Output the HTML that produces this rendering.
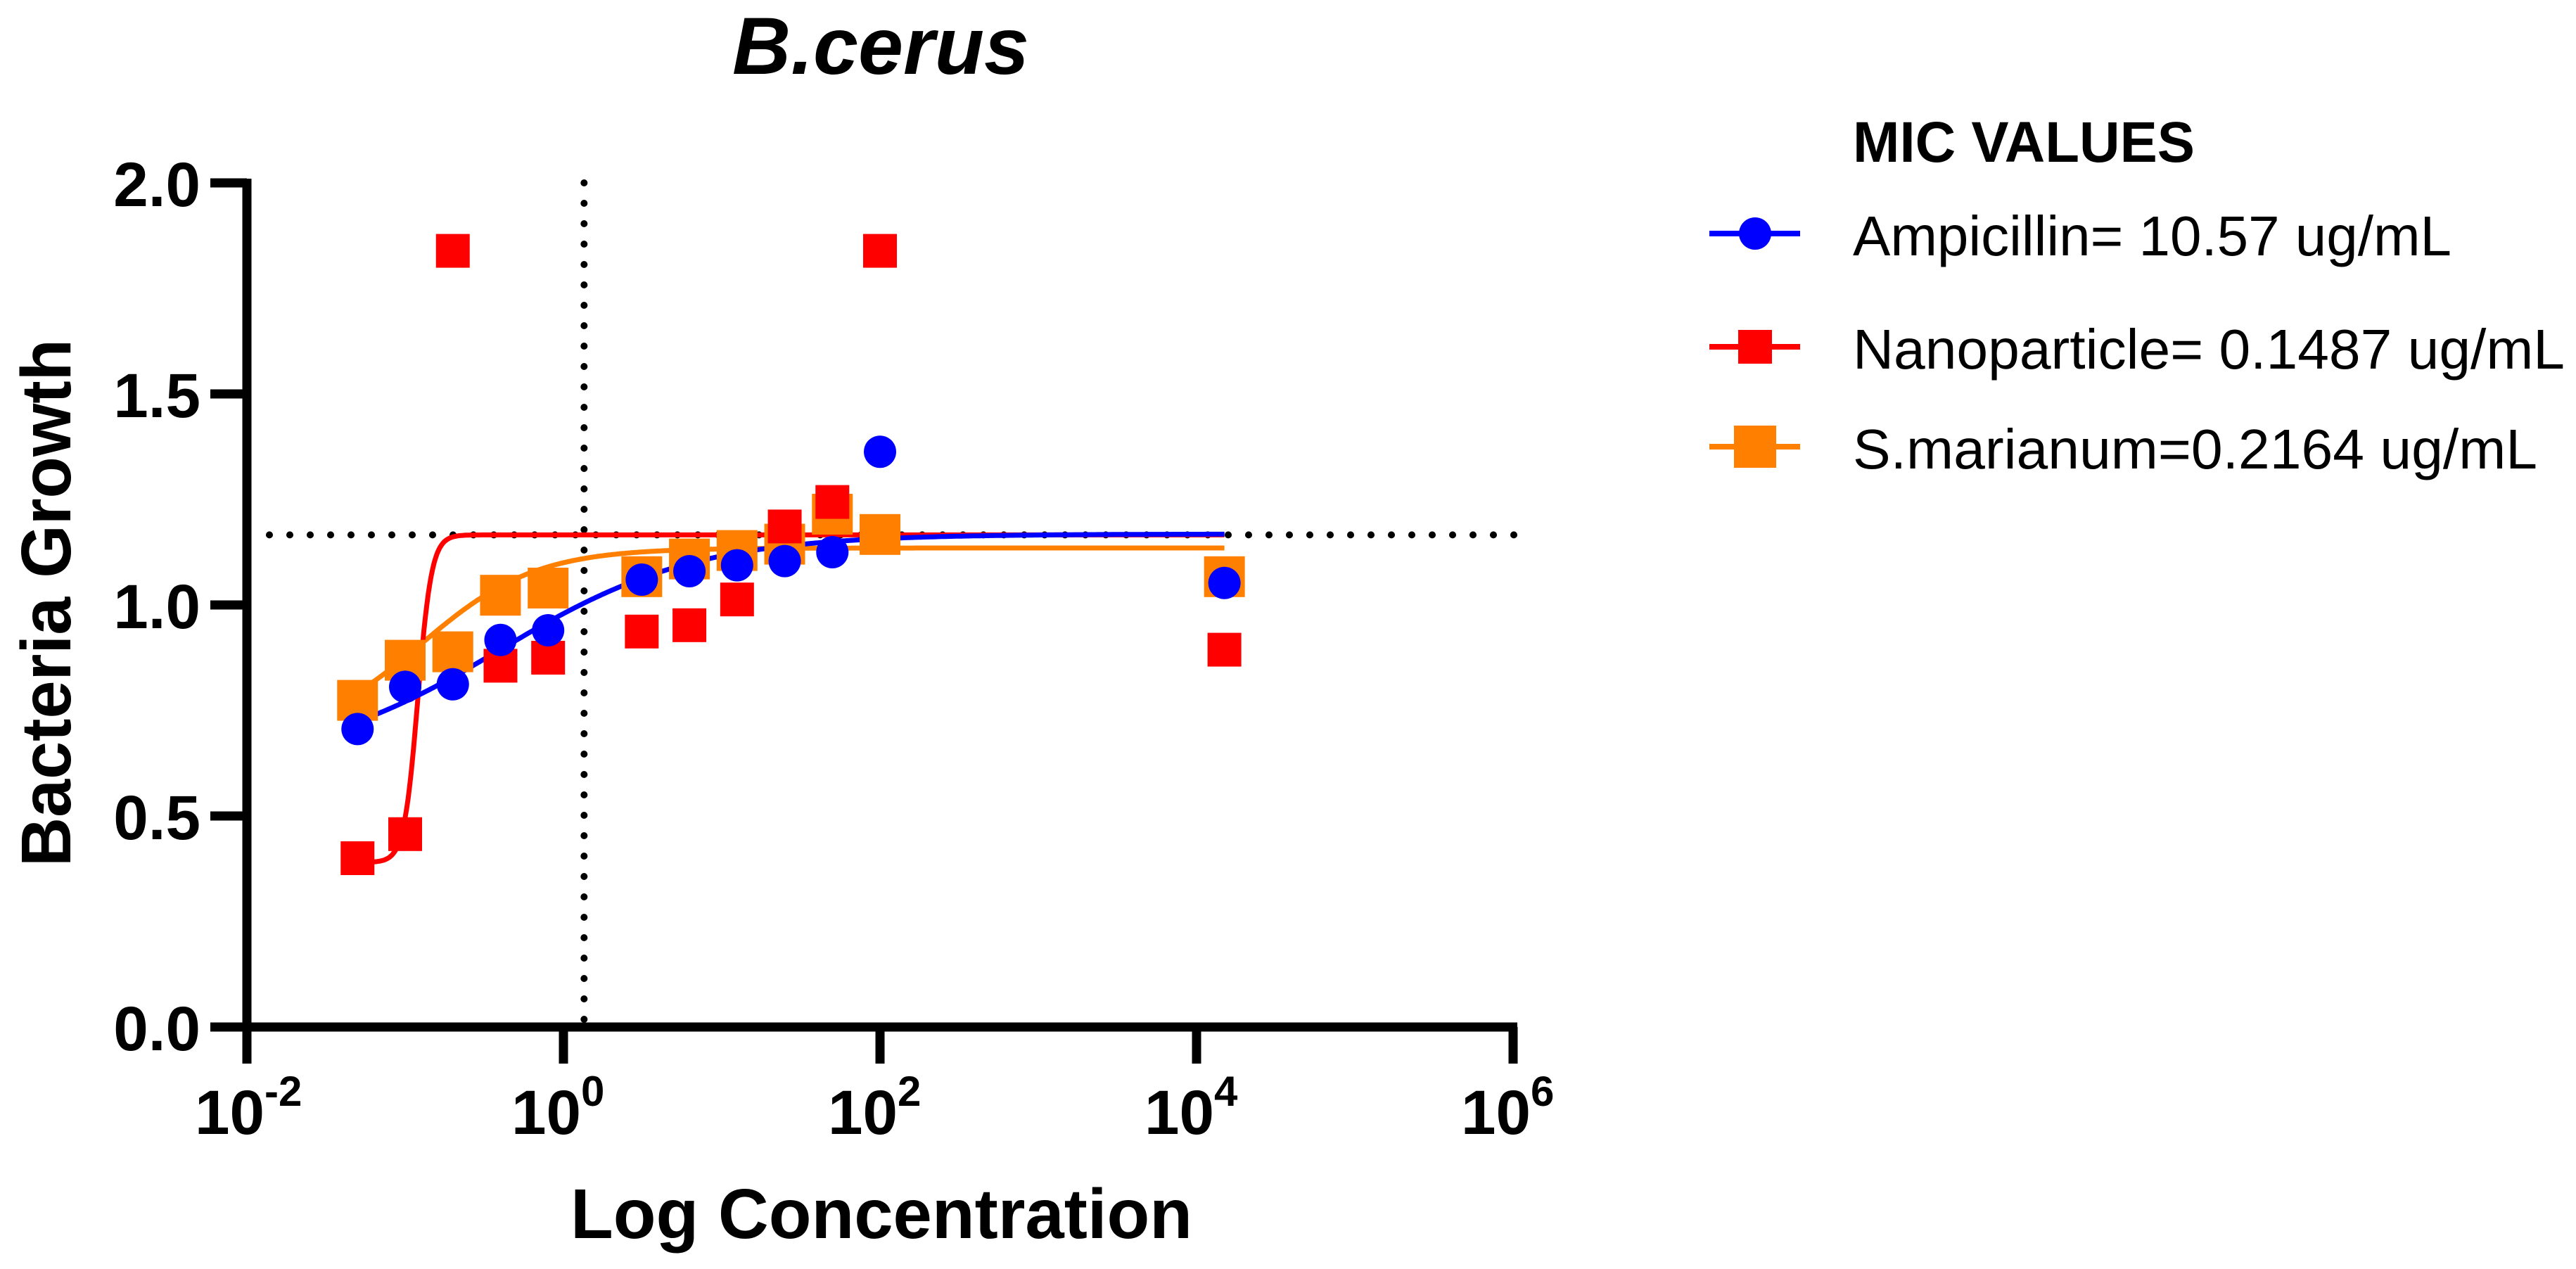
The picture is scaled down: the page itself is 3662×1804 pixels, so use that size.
<!DOCTYPE html>
<html><head><meta charset="utf-8"><style>
html,body{margin:0;padding:0;background:#fff;}
svg{display:block;}
text{font-family:"Liberation Sans",Arial,sans-serif;}
</style></head>
<body>
<svg id="chart" width="3662" height="1804" viewBox="0 0 3662 1804">
  <text x="1252" y="105" font-size="115" font-weight="bold" font-style="italic" text-anchor="middle" textLength="422" lengthAdjust="spacingAndGlyphs">B.cerus</text>
  <g id="grid"></g>
  <g id="axes"></g>
  <g id="curves"></g>
  <g id="points"></g>
  <text transform="translate(100,857) rotate(-90)" font-size="100" font-weight="bold" text-anchor="middle" textLength="750" lengthAdjust="spacingAndGlyphs">Bacteria Growth</text>
  <text x="1253" y="1760" font-size="100" font-weight="bold" text-anchor="middle" textLength="884" lengthAdjust="spacingAndGlyphs">Log Concentration</text>
  <g id="legend">
    <text x="2634" y="230" font-size="82" font-weight="bold" textLength="486" lengthAdjust="spacingAndGlyphs">MIC VALUES</text>
  </g>
</svg>
<script>
const NS='http://www.w3.org/2000/svg';
const concentrations=[0.05,0.1,0.2,0.4,0.8,3.125,6.25,12.5,25,50,100,15000];
const ampicillin=[0.706,0.806,0.812,0.917,0.94,1.06,1.08,1.094,1.104,1.125,1.363,1.052];
const nanoparticle=[0.40,0.457,1.839,0.856,0.875,0.937,0.952,1.013,1.186,1.244,1.839,0.894];
const marianum=[0.774,0.869,0.889,1.023,1.04,1.067,1.109,1.129,1.144,1.215,1.167,1.067];
// fit params: bottom, top, logEC50, hill
const ampFit=[0.62,1.168,-0.4,0.7];
const nanoFit=[0.39,1.166,-0.92,10];
const marFit=[0.68,1.135,-0.9,1.2];
const xTickExps=[-2,0,2,4,6];
const yTicks=[0,0.5,1.0,1.5,2.0];
const yTickLabels=['0.0','0.5','1.0','1.5','2.0'];
const micX=1.35, micY=1.166;

const X0=351,X1=2151,Y0=1460,Y1=260;
const xs=v=>X0+(Math.log10(v)+2)/8*(X1-X0);
const xl=l=>X0+(l+2)/8*(X1-X0);
const ys=v=>Y0-(v/2)*(Y0-Y1);
function mk(tag,attrs,parent){const e=document.createElementNS(NS,tag);for(const k in attrs)e.setAttribute(k,attrs[k]);parent.appendChild(e);return e;}

const grid=document.getElementById('grid');
let vl=mk('line',{x1:xs(micX),x2:xs(micX),y1:Y1,y2:Y0,stroke:'#000','stroke-width':10,'stroke-linecap':'round','stroke-dasharray':'0 29'},grid);


let hl=mk('line',{x1:383,x2:2165,y1:ys(micY),y2:ys(micY),stroke:'#000','stroke-width':10,'stroke-linecap':'round','stroke-dasharray':'0 29'},grid);



const axes=document.getElementById('axes');
let ya=mk('line',{x1:X0,x2:X0,y1:254,y2:Y0+6,stroke:'#000','stroke-width':13},axes);


let xa=mk('line',{x1:X0-52,x2:X1+6,y1:Y0,y2:Y0,stroke:'#000','stroke-width':13},axes);


yTicks.forEach((v,i)=>{
  const t=mk('line',{x1:X0-52,x2:X0,y1:ys(v),y2:ys(v),stroke:'#000','stroke-width':13},axes);
  
  
  const l=mk('text',{x:285,y:ys(v)+33,'font-size':89,'font-weight':'bold','text-anchor':'end'},axes);
  l.textContent=yTickLabels[i];
  
  
});
xTickExps.forEach(e=>{
  const x=xl(e);
  const t=mk('line',{x1:x,x2:x,y1:Y0,y2:1512,stroke:'#000','stroke-width':13},axes);
  
  
  const l=mk('text',{x:x-74,y:1612,'font-size':89,'font-weight':'bold'},axes);
  
  
  l.textContent='10';
  const s=mk('tspan',{dy:-40,'font-size':60},l);
  s.textContent=String(e);
});

const curves=document.getElementById('curves');
function curve(p,color,name){
  const lo=Math.log10(concentrations[0]),hi=Math.log10(concentrations[concentrations.length-1]);
  let d='';
  for(let i=0;i<=600;i++){const l=lo+(hi-lo)*i/600;const y=p[0]+(p[1]-p[0])/(1+Math.pow(10,(p[2]-l)*p[3]));d+=(i?'L':'M')+xl(l).toFixed(1)+','+ys(y).toFixed(1);}
  const c=mk('path',{d:d,fill:'none',stroke:color,'stroke-width':7},curves);
  
  
}
curve(marFit,'#FF8000','marianum-curve');
curve(nanoFit,'#FF0000','nanoparticle-curve');
curve(ampFit,'#0000FF','ampicillin-curve');

const pts=document.getElementById('points');
marianum.forEach((v,i)=>{const s=58;const r=mk('rect',{x:xs(concentrations[i])-s/2,y:ys(v)-s/2,width:s,height:s,fill:'#FF8000'},pts);
  
  });
nanoparticle.forEach((v,i)=>{const s=48;const r=mk('rect',{x:xs(concentrations[i])-s/2,y:ys(v)-s/2,width:s,height:s,fill:'#FF0000'},pts);
  
  });
ampicillin.forEach((v,i)=>{const c=mk('circle',{cx:xs(concentrations[i]),cy:ys(v),r:23,fill:'#0000FF'},pts);
  
  });

const leg=document.getElementById('legend');
const legLabels=['Ampicillin= 10.57 ug/mL','Nanoparticle= 0.1487 ug/mL','S.marianum=0.2164 ug/mL'];
const legColors=['#0000FF','#FF0000','#FF8000'];
const legY=[332,493,635];
const legW=[851,1012,973];
legLabels.forEach((t,i)=>{
  const g=mk('g',{},leg);
  
  
  mk('line',{x1:2430,x2:2559,y1:legY[i],y2:legY[i],stroke:legColors[i],'stroke-width':8},g);
  if(i===0) mk('circle',{cx:2495,cy:legY[i],r:23,fill:legColors[i]},g);
  else {const s=i===1?48:60;mk('rect',{x:2495-s/2,y:legY[i]-s/2,width:s,height:s,fill:legColors[i]},g);}
  const tx=mk('text',{x:2634,y:legY[i]+31,'font-size':80,textLength:legW[i],lengthAdjust:'spacingAndGlyphs'},g);
  tx.textContent=t;
});
</script>
</body></html>
